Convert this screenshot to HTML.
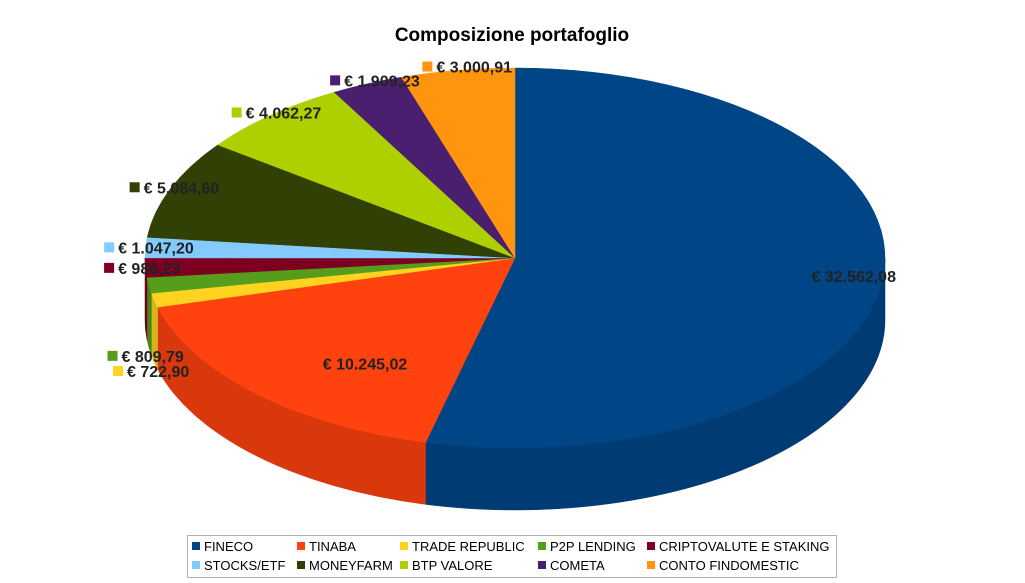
<!DOCTYPE html>
<html><head><meta charset="utf-8"><style>
html,body{margin:0;padding:0;background:#fff;}
body{width:1025px;height:578px;overflow:hidden;font-family:"Liberation Sans",sans-serif;}
</style></head><body>
<svg id="chart" width="1025" height="578" viewBox="0 0 1025 578" xmlns="http://www.w3.org/2000/svg">
<text x="512" y="41" text-anchor="middle" font-family="Liberation Sans, sans-serif" font-weight="bold" font-size="19" fill="#000">Composizione portafoglio</text>
<g id="walls"></g><g id="tops"></g><g id="labels"></g>
<g id="legend">
<rect x="187.5" y="535.5" width="649" height="42" fill="#fff" stroke="#b3b3b3"/>
</g>
</svg>
<script>
const categories=["FINECO","TINABA","TRADE REPUBLIC","P2P LENDING","CRIPTOVALUTE E STAKING","STOCKS/ETF","MONEYFARM","BTP VALORE","COMETA","CONTO FINDOMESTIC"];
const values=[32562.08,10245.02,722.90,809.79,986.23,1047.20,5084.60,4062.27,1909.23,3000.91];
const valueLabels=["€ 32.562,08","€ 10.245,02","€ 722,90","€ 809,79","€ 986,23","€ 1.047,20","€ 5.084,60","€ 4.062,27","€ 1.909,23","€ 3.000,91"];
const colors=["#004586","#ff420e","#ffd320","#579d1c","#7e0021","#83caff","#314004","#aecf00","#4b1f6f","#ff950e"];
const wallColors=["#003b73","#d8380c","#d9b31b","#4a8518","#6b001c","#6fabd9","#2a3603","#94b000","#40195e","#d97f0c"];

const NS="http://www.w3.org/2000/svg";
const cx=515,cy=258,rx=370,ry=190,depth=62;
function P(t,d){const r=t*Math.PI/180;return [cx+rx*Math.sin(r),cy-ry*Math.cos(r)+(d||0)];}
function mk(tag,attrs,parent){const e=document.createElementNS(NS,tag);for(const k in attrs)e.setAttribute(k,attrs[k]);parent.appendChild(e);return e;}
const total=values.reduce((a,b)=>a+b,0);
const walls=document.getElementById('walls'),tops=document.getElementById('tops'),labels=document.getElementById('labels'),legend=document.getElementById('legend');
let cum=0;const mids=[];
values.forEach((v,i)=>{
  const t1=cum/total*360,t2=(cum+v)/total*360;cum+=v;mids.push((t1+t2)/2);
  const a=Math.max(t1,90),b=Math.min(t2,270);
  if(b>a){
    const p1=P(a),p2=P(b),q2=P(b,depth),q1=P(a,depth),lg=(b-a)>180?1:0;
    const w=mk('path',{d:`M${p1} A${rx} ${ry} 0 ${lg} 1 ${p2} L${q2} A${rx} ${ry} 0 ${lg} 0 ${q1} Z`,fill:wallColors[i],stroke:wallColors[i],'stroke-width':0.5},walls);
    
    
  }
  const s=P(t1),e=P(t2),lg=(t2-t1)>180?1:0;
  const sl=mk('path',{d:`M${cx},${cy} L${s} A${rx} ${ry} 0 ${lg} 1 ${e} Z`,fill:colors[i],stroke:colors[i],'stroke-width':0.5},tops);
  
  
});
// labels
let lastLeftY=-1e9;
const order=values.map((v,i)=>i);
order.forEach(i=>{
  const frac=values[i]/total;const m=mids[i];
  let f=frac>0.1?0.78:1.02;
  let [x,y]=P(m);x=cx+(x-cx)*f;y=cy+(y-cy)*f;
  if(frac<0.1&&m>180&&m<265){y+=depth+8;}
  const g=mk('g',{},labels);
  
  
  let lx=x; if(frac<0.1&&m>180)lx=x-30;
  mk('rect',{x:lx-4,y:y-5,width:10,height:10,fill:colors[i]},g);
  const t=mk('text',{x:lx+10,y:y+6,'font-family':'Liberation Sans, sans-serif','font-weight':'bold','font-size':16,fill:'#222'},g);
  t.textContent=valueLabels[i];
});
// legend
const colX=[192,297,400,538,647],rowY=[546,565];
categories.forEach((c,i)=>{
  const x=colX[i%5],y=rowY[Math.floor(i/5)];
  const g=mk('g',{},legend);
  
  
  mk('rect',{x:x,y:y-4,width:8,height:8,fill:colors[i]},g);
  const t=mk('text',{x:x+12,y:y+5,'font-family':'Liberation Sans, sans-serif','font-size':13,fill:'#000'},g);
  t.textContent=c;
});
</script>
</body></html>
